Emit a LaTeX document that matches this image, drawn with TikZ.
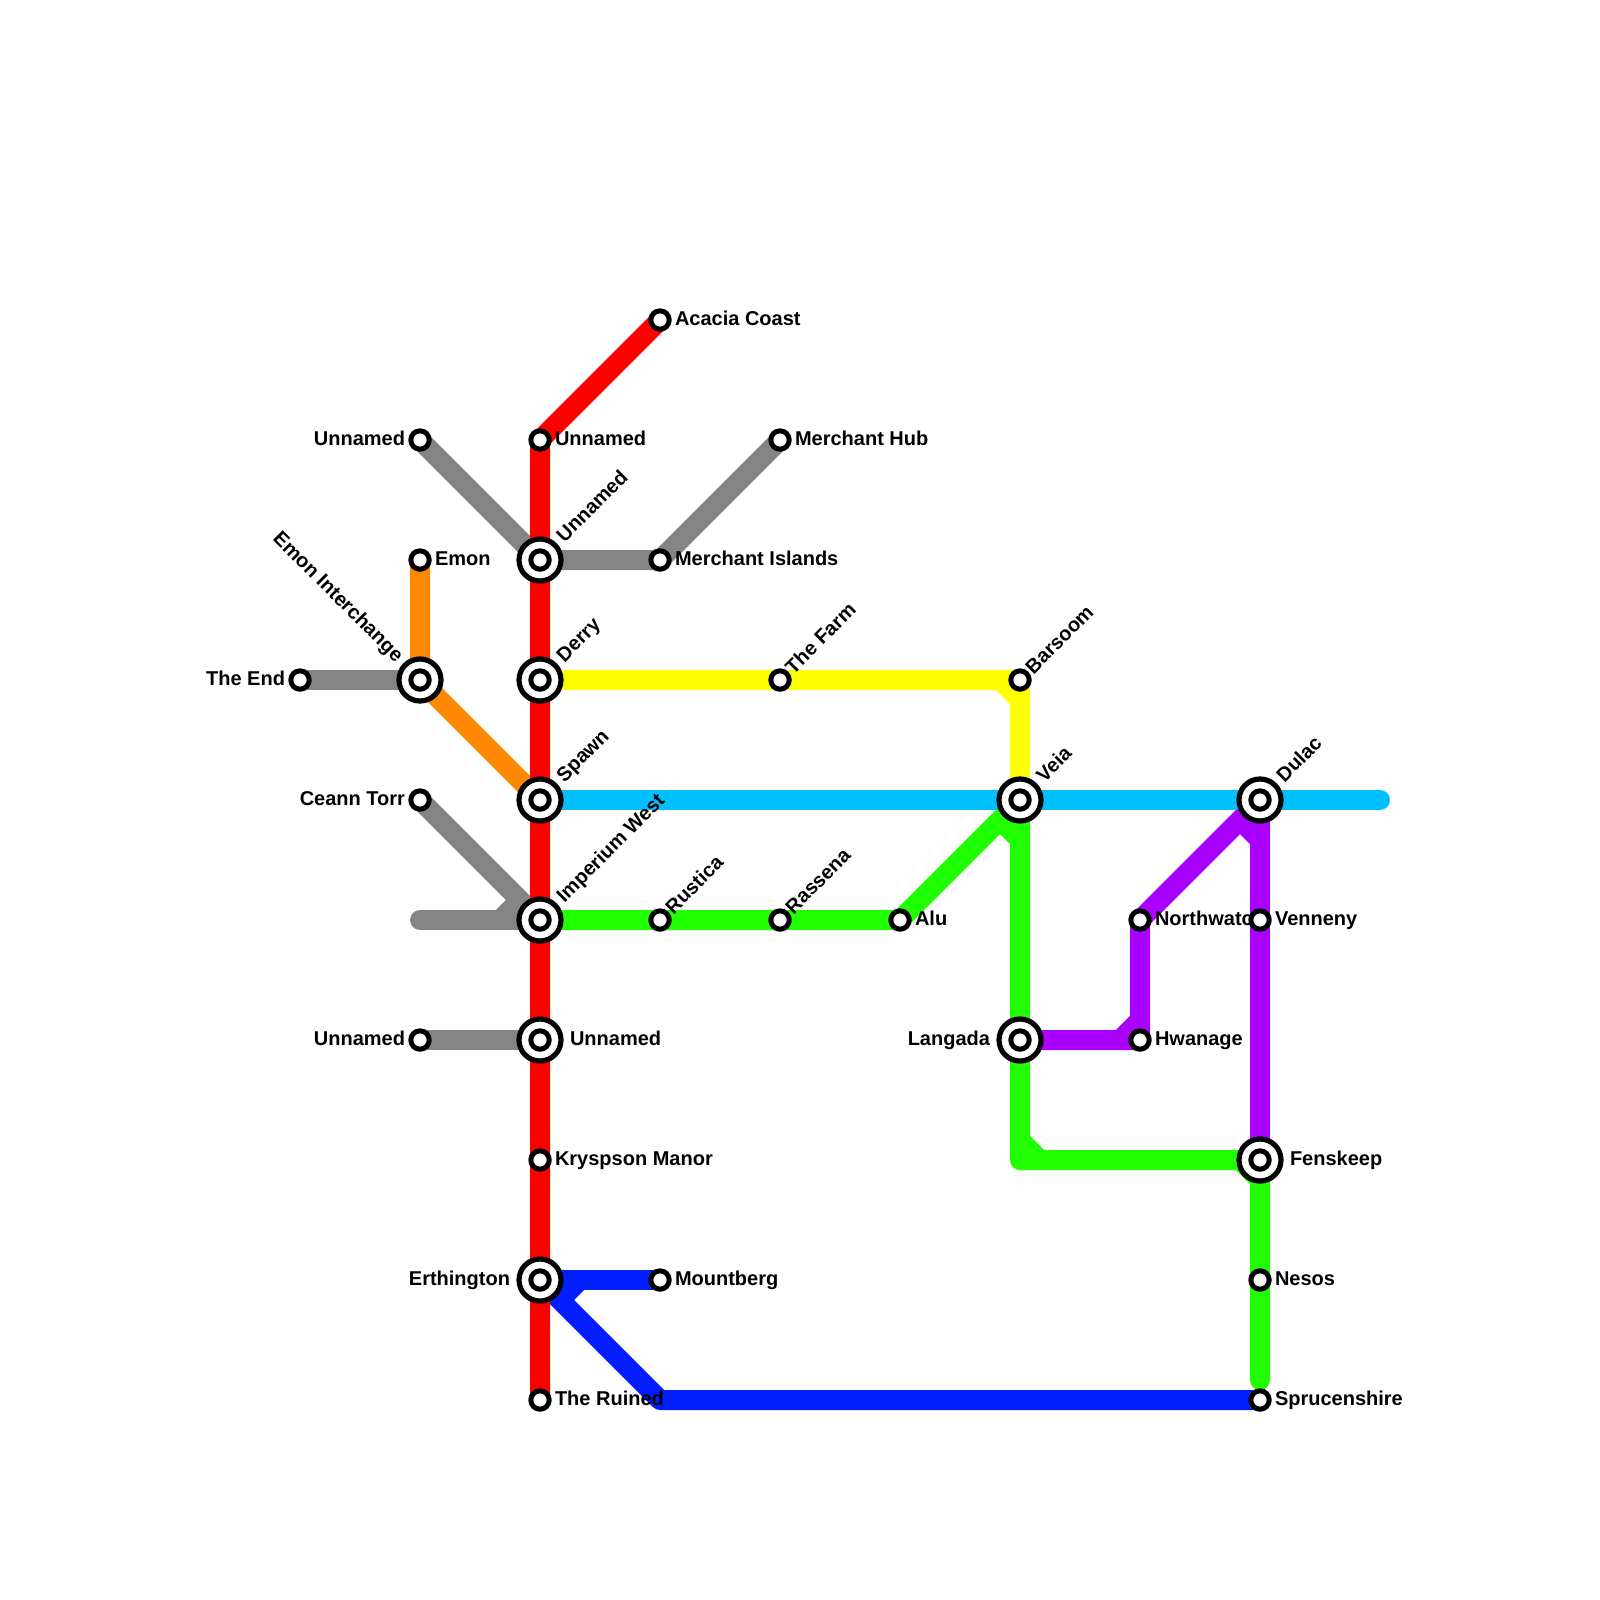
\documentclass[tikz,border=0pt]{standalone}
\usepackage{fontspec}
\setmainfont{Liberation Sans}
\pgfdeclarelayer{lines}
\pgfdeclarelayer{labels}
\pgfsetlayers{lines,labels,main}
\definecolor{lgray}{HTML}{858585}
\definecolor{lorange}{HTML}{FF8800}
\definecolor{lyellow}{HTML}{FFFF00}
\definecolor{lcyan}{HTML}{00BFFF}
\definecolor{lgreen}{HTML}{1FFF00}
\definecolor{lpurple}{HTML}{AA00FF}
\definecolor{lblue}{HTML}{001EFF}
\definecolor{lred}{HTML}{FF0000}
\tikzset{
  smallst/.style={circle,draw=black,fill=white,line width=2.5pt,minimum size=9.2pt,inner sep=0pt,outer sep=0pt},
  bigst/.style={circle,draw=black,fill=white,line width=2.6pt,minimum size=21pt,inner sep=0pt,outer sep=0pt,
    path picture={\draw[black,line width=2.5pt] (path picture bounding box.center) circle (4.6pt);}},
  metro/.style={line width=10pt,line cap=round,line join=round},
  lbl/.style={inner sep=0pt,outer sep=0pt,text=black,font=\fontsize{10pt}{12pt}\selectfont\bfseries},
  lr/.style={lbl,anchor=base west},
  ll/.style={lbl,anchor=base east},
  lup/.style={lbl,anchor=base west,rotate=45},
  ldown/.style={lbl,anchor=base east,rotate=-45}
}
\begin{document}
\begin{tikzpicture}[x=0.5pt,y=-0.5pt]
\useasboundingbox (0,0) rectangle (1600,1600);
% stations
\node[smallst] (acacia) at (660,320) {};
\node[smallst] (unnA) at (540,440) {};
\node[smallst] (merhub) at (780,440) {};
\node[smallst] (unnL) at (420,440) {};
\node[bigst] (unnB) at (540,560) {};
\node[smallst] (merisl) at (660,560) {};
\node[smallst] (emon) at (420,560) {};
\node[smallst] (theend) at (300,680) {};
\node[bigst] (emoni) at (420,680) {};
\node[bigst] (derry) at (540,680) {};
\node[smallst] (farm) at (780,680) {};
\node[smallst] (barsoom) at (1020,680) {};
\node[smallst] (ceann) at (420,800) {};
\node[bigst] (spawn) at (540,800) {};
\node[bigst] (veia) at (1020,800) {};
\node[bigst] (dulac) at (1260,800) {};
\node[bigst] (imperium) at (540,920) {};
\node[smallst] (rustica) at (660,920) {};
\node[smallst] (rassena) at (780,920) {};
\node[smallst] (alu) at (900,920) {};
\node[smallst] (north) at (1140,920) {};
\node[smallst] (venneny) at (1260,920) {};
\node[smallst] (unnM) at (420,1040) {};
\node[bigst] (unnC) at (540,1040) {};
\node[bigst] (langada) at (1020,1040) {};
\node[smallst] (hwanage) at (1140,1040) {};
\node[smallst] (kryspson) at (540,1160) {};
\node[bigst] (fenskeep) at (1260,1160) {};
\node[bigst] (erth) at (540,1280) {};
\node[smallst] (mount) at (660,1280) {};
\node[smallst] (nesos) at (1260,1280) {};
\node[smallst] (ruined) at (540,1400) {};
\node[smallst] (spruce) at (1260,1400) {};
% free ends and corners
\coordinate (grayend) at (420,920);
\coordinate (cyanend) at (1380,800);
\coordinate (greenend) at (1260,1380);
\coordinate (greencorner) at (1020,1160);
\coordinate (bluecorner) at (660,1400);
\begin{pgfonlayer}{lines}
\fill[white] (0,0) rectangle (1600,1600);
\draw[metro,lgray] (unnL.center) -- (unnB.center);
\draw[metro,lgray] (unnB.center) -- (merisl.center) -- (merhub.center);
\draw[metro,lgray] (theend.center) -- (emoni.center);
\draw[metro,lgray] (ceann.center) -- (imperium.center);
\draw[metro,lgray] (grayend) -- (imperium.center);
\draw[metro,lgray,line cap=butt] (imperium.center) ++(-40,0) -- ++(20,-20);
\draw[metro,lgray] (unnM.center) -- (unnC.center);
\draw[metro,lorange] (emon.center) -- (emoni.center) -- (spawn.center);
\draw[metro,lyellow] (derry.center) -- (farm.center) -- (barsoom.center) -- (veia.center);
\draw[metro,lyellow,line cap=butt] (barsoom.center) ++(-20,0) -- ++(20,20);
\draw[metro,lgreen] (imperium.center) -- (rustica.center) -- (rassena.center) -- (alu.center) -- (veia.center) -- (langada.center) -- (greencorner) -- (fenskeep.center) -- (nesos.center) -- (greenend);
\draw[metro,lgreen,line cap=butt] (veia.center) ++(-20,20) -- ++(20,20);
\draw[metro,lgreen,line cap=butt] (greencorner) ++(0,-20) -- ++(20,20);
\draw[metro,lgreen,line cap=butt] (fenskeep.center) ++(-20,0) -- ++(20,20);
\draw[metro,lpurple] (dulac.center) -- (north.center) -- (hwanage.center) -- (langada.center);
\draw[metro,lpurple] (dulac.center) -- (venneny.center) -- (fenskeep.center);
\draw[metro,lpurple,line cap=butt] (dulac.center) ++(-20,20) -- ++(20,20);
\draw[metro,lpurple,line cap=butt] (hwanage.center) ++(-20,0) -- ++(20,-20);
\draw[metro,lblue] (erth.center) -- (mount.center);
\draw[metro,lblue] (erth.center) -- (bluecorner) -- (spruce.center);
\draw[metro,lblue,line cap=butt] (erth.center) ++(40,0) -- ++(-20,20);
\draw[metro,lcyan] (spawn.center) -- (veia.center) -- (dulac.center) -- (cyanend);
\draw[metro,lred] (acacia.center) -- (unnA.center) -- (unnB.center) -- (derry.center) -- (spawn.center) -- (imperium.center) -- (unnC.center) -- (kryspson.center) -- (erth.center) -- (ruined.center);
\end{pgfonlayer}
\begin{pgfonlayer}{labels}
\node[lr] (tacacia) at (675,325) {Acacia Coast};
\node[lr] (tunnA) at (555,445) {Unnamed};
\node[lr] (tmerhub) at (795,445) {Merchant Hub};
\node[lr] (tmerisl) at (675,565) {Merchant Islands};
\node[lr] (temon) at (435,565) {Emon};
\node[lr] (talu) at (915,925) {Alu};
\node[lr] (tnorth) at (1155,925) {Northwatch};
\node[lr] (tvenneny) at (1275,925) {Venneny};
\node[lr] (thwanage) at (1155,1045) {Hwanage};
\node[lr] (tkryspson) at (555,1165) {Kryspson Manor};
\node[lr] (tmount) at (675,1285) {Mountberg};
\node[lr] (tnesos) at (1275,1285) {Nesos};
\node[lr] (truined) at (555,1405) {The Ruined};
\node[lr] (tspruce) at (1275,1405) {Sprucenshire};
\node[lr] (tunnC) at (570,1045) {Unnamed};
\node[lr] (tfenskeep) at (1290,1165) {Fenskeep};
\node[ll] (tunnL) at (405,445) {Unnamed};
\node[ll] (ttheend) at (285,685) {The End};
\node[ll] (tceann) at (405,805) {Ceann Torr};
\node[ll] (tunnM) at (405,1045) {Unnamed};
\node[ll] (terth) at (510,1285) {Erthington};
\node[ll] (tlangada) at (990,1045) {Langada};
\node[lup] (tunnB) at (564.5,543) {Unnamed};
\node[lup] (tderry) at (564.5,663) {Derry};
\node[lup] (tspawn) at (564.5,783) {Spawn};
\node[lup] (timperium) at (564.5,903) {Imperium West};
\node[lup] (tveia) at (1044.5,783) {Veia};
\node[lup] (tdulac) at (1284.5,783) {Dulac};
\node[lup] (tfarm) at (793.5,675) {The Farm};
\node[lup] (tbarsoom) at (1033.5,675) {Barsoom};
\node[lup] (trustica) at (673.5,915) {Rustica};
\node[lup] (trassena) at (793.5,915) {Rassena};
\node[ldown] (temoni) at (395.5,663) {Emon Interchange};
\end{pgfonlayer}
\end{tikzpicture}
\end{document}
